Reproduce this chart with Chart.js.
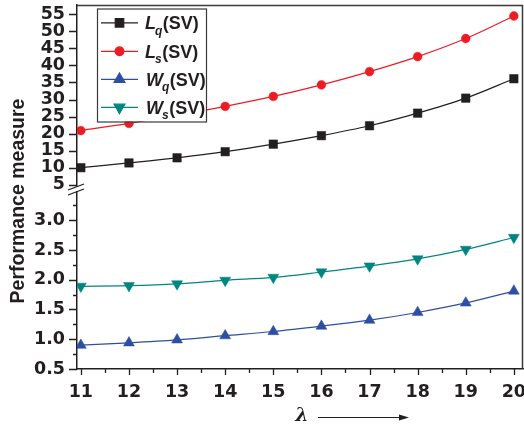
<!DOCTYPE html>
<html>
<head>
<meta charset="utf-8">
<script src="https://cdn.jsdelivr.net/npm/chart.js@4/dist/chart.umd.min.js"></script>
<style>
  html, body { margin: 0; padding: 0; background: #fff; }
  #wrap { width: 524px; height: 430px; }
</style>
</head>
<body>
<div id="wrap"><canvas id="c" width="524" height="430"></canvas></div>
<script>
// Arrival rate λ on the horizontal axis
const lambdas = [11, 12, 13, 14, 15, 16, 17, 18, 19, 20];

// Queue-length measures (upper panel)
const lq = [10.0, 11.4, 12.9, 14.7, 16.9, 19.4, 22.3, 26.0, 30.4, 36.1];
const ls = [20.9, 23.0, 25.4, 28.0, 30.9, 34.3, 38.2, 42.6, 47.9, 54.5];

// Waiting-time measures (lower panel)
const wq = [0.90, 0.94, 0.99, 1.06, 1.13, 1.22, 1.32, 1.45, 1.61, 1.81];
const ws = [1.89, 1.90, 1.93, 1.99, 2.04, 2.13, 2.23, 2.35, 2.51, 2.71];

// Tick values
const xTicks = [11, 12, 13, 14, 15, 16, 17, 18, 19, 20];
const upperTicks = [5, 10, 15, 20, 25, 30, 35, 40, 45, 50, 55];
const lowerTicks = [0.5, 1.0, 1.5, 2.0, 2.5, 3.0];
const lowerMinor = [0.75, 1.25, 1.75, 2.25, 2.75, 3.25];

const INK = '#231f20';
const C_LQ = '#231f20';
const C_LS = '#ed1c24';
const C_WQ = '#2e4ea1';
const C_WS = '#008580';

const pts = arr => arr.map((v, i) => ({ x: lambdas[i], y: v }));

function series(label, data, color, axis, style, radius, rotation) {
  return {
    label, data: pts(data), yAxisID: axis,
    borderColor: color, backgroundColor: color,
    borderWidth: 1.2,
    pointStyle: style, pointRadius: radius, pointRotation: rotation || 0,
    pointBorderWidth: 0.5, pointBorderColor: color, pointBackgroundColor: color,
    cubicInterpolationMode: 'monotone', fill: false
  };
}

const datasets = [
  series('Lq', lq, C_LQ, 'yTop', 'rect', 6),
  series('Ls', ls, C_LS, 'yTop', 'circle', 4.4),
  series('Wq', wq, C_WQ, 'yBot', 'triangle', 6.3),
  series('Ws', ws, C_WS, 'yBot', 'triangle', 6.3, 180)
];
const legendParts = [
  ['L', 'q'], ['L', 's'], ['W', 'q'], ['W', 's']
];

const tickFont = { family: 'DejaVu Sans, Verdana, sans-serif', size: 17.5, weight: 'bold' };

// Keep the plot box fixed: no extra room for overhanging tick labels
function fixedBox(width, height) {
  return s => {
    if (width !== null) s.width = width;
    if (height !== null) s.height = height;
    s.paddingTop = 0; s.paddingBottom = 0; s.paddingLeft = 0; s.paddingRight = 0;
  };
}

// Frame, tick marks, axis break, titles and legend
const decor = {
  id: 'decor',
  afterDatasetsDraw(chart) {
    const ctx = chart.ctx;
    const a = chart.chartArea;
    const sx = chart.scales.x, st = chart.scales.yTop, sb = chart.scales.yBot;
    ctx.save();
    ctx.strokeStyle = '#3a3a3a';
    ctx.lineWidth = 1.5;
    // top and right frame
    ctx.beginPath();
    ctx.moveTo(a.left, a.top + 0.5);
    ctx.lineTo(a.right - 0.5, a.top + 0.5);
    ctx.lineTo(a.right - 0.5, a.bottom);
    ctx.stroke();

    // tick marks
    ctx.strokeStyle = INK;
    ctx.lineWidth = 1.3;
    ctx.beginPath();
    xTicks.forEach(v => {
      const p = Math.round(sx.getPixelForValue(v)) + 0.5;
      ctx.moveTo(p, a.bottom); ctx.lineTo(p, a.bottom + 6);
    });
    xTicks.slice(0, -1).forEach(v => {
      const p = Math.round(sx.getPixelForValue(v + 0.5)) + 0.5;
      ctx.moveTo(p, a.bottom); ctx.lineTo(p, a.bottom + 4);
    });
    upperTicks.forEach(v => {
      const p = Math.round(st.getPixelForValue(v)) + 0.5;
      ctx.moveTo(a.left, p); ctx.lineTo(a.left - 8, p);
    });
    lowerTicks.forEach(v => {
      const p = Math.round(sb.getPixelForValue(v)) + 0.5;
      ctx.moveTo(a.left, p); ctx.lineTo(a.left - 8, p);
    });
    lowerMinor.forEach(v => {
      const p = Math.round(sb.getPixelForValue(v)) + 0.5;
      ctx.moveTo(a.left, p); ctx.lineTo(a.left - 4, p);
    });
    ctx.stroke();

    // axis break
    const brk = st.bottom;
    ctx.fillStyle = '#fff';
    ctx.fillRect(a.left - 3, brk - 2, 6, 4);
    ctx.lineWidth = 1.3;
    ctx.beginPath();
    ctx.moveTo(a.left - 9, brk + 1); ctx.lineTo(a.left + 7, brk - 5);
    ctx.moveTo(a.left - 9, brk + 6); ctx.lineTo(a.left + 7, brk);
    ctx.stroke();

    // y-axis title
    ctx.fillStyle = INK;
    ctx.font = 'bold 19.5px Liberation Sans, Arial, sans-serif';
    ctx.textAlign = 'center';
    ctx.textBaseline = 'middle';
    ctx.save();
    ctx.translate(19, 201);
    ctx.rotate(-Math.PI / 2);
    ctx.fillText('Performance measure', 0, 0);
    ctx.restore();

    // x-axis title with arrow
    ctx.font = 'italic bold 19px DejaVu Serif, serif';
    ctx.fillText('λ', 302, 416);
    ctx.lineWidth = 1.2;
    ctx.beginPath();
    ctx.moveTo(318, 417.5); ctx.lineTo(402, 417.5);
    ctx.stroke();
    ctx.beginPath();
    ctx.moveTo(409, 417.5); ctx.lineTo(399, 414.5); ctx.lineTo(399, 420.5);
    ctx.closePath(); ctx.fill();

    // legend
    const lx = 97, ly = 8.5, lw = 109, lh = 113;
    ctx.fillStyle = '#fff';
    ctx.fillRect(lx, ly, lw, lh);
    ctx.strokeStyle = '#3a3a3a';
    ctx.lineWidth = 1.2;
    ctx.strokeRect(lx + 0.5, ly + 0.5, lw, lh);
    const rows = [22.8, 51.3, 79.3, 107.3];
    chart.data.datasets.forEach((ds, i) => {
      const y = rows[i];
      ctx.strokeStyle = ds.borderColor;
      ctx.lineWidth = 1.2;
      ctx.beginPath();
      ctx.moveTo(101, y); ctx.lineTo(138, y);
      ctx.stroke();
      ctx.fillStyle = ds.backgroundColor;
      Chart.helpers.drawPoint(ctx, {
        pointStyle: ds.pointStyle, radius: ds.pointRadius, rotation: ds.pointRotation,
        borderWidth: 0.5
      }, 119.5, y);
      const [main, sub] = legendParts[i];
      ctx.fillStyle = INK;
      ctx.textAlign = 'left';
      ctx.textBaseline = 'alphabetic';
      let x = main === 'W' ? 146 : 145;
      ctx.font = 'italic bold 18px Liberation Sans, Arial, sans-serif';
      ctx.fillText(main, x, y + 6.5);
      x += ctx.measureText(main).width;
      ctx.font = 'italic bold 12px Liberation Sans, Arial, sans-serif';
      ctx.fillText(sub, x - 1, y + 12);
      x += ctx.measureText(sub).width - 0.5;
      ctx.font = 'bold 18px Liberation Sans, Arial, sans-serif';
      ctx.fillText('(SV)', x, y + 6.5);
    });
    ctx.restore();
  }
};

new Chart(document.getElementById('c'), {
  type: 'line',
  data: { datasets },
  plugins: [decor],
  options: {
    responsive: false,
    devicePixelRatio: 1,
    animation: false,
    layout: { autoPadding: false, padding: { left: 0, top: 5, right: 1, bottom: 0 } },
    plugins: { legend: { display: false }, tooltip: { enabled: false } },
    scales: {
      x: {
        type: 'linear', min: 10.92, max: 20.19,
        afterBuildTicks: s => { s.ticks = xTicks.map(v => ({ value: v })); },
        afterFit: fixedBox(null, 61),
        grid: { display: false },
        border: { display: true, color: INK, width: 1.5 },
        ticks: { font: tickFont, color: INK, padding: 5, maxRotation: 0, autoSkip: false }
      },
      yBot: {
        type: 'linear', position: 'left', stack: 'y', stackWeight: 180,
        min: 0.5, max: 3.525,
        afterBuildTicks: s => { s.ticks = lowerTicks.map(v => ({ value: v })); },
        afterFit: fixedBox(77, null),
        grid: { display: false },
        border: { display: true, color: INK, width: 1.5 },
        ticks: { font: tickFont, color: INK, padding: 4, autoSkip: false, callback: v => v.toFixed(1) }
      },
      yTop: {
        type: 'linear', position: 'left', stack: 'y', stackWeight: 184,
        min: 3.75, max: 57.73,
        afterBuildTicks: s => { s.ticks = upperTicks.map(v => ({ value: v })); },
        afterFit: fixedBox(77, null),
        grid: { display: false },
        border: { display: true, color: INK, width: 1.5 },
        ticks: { font: tickFont, color: INK, padding: 4, autoSkip: false }
      }
    }
  }
});
</script>
</body>
</html>
